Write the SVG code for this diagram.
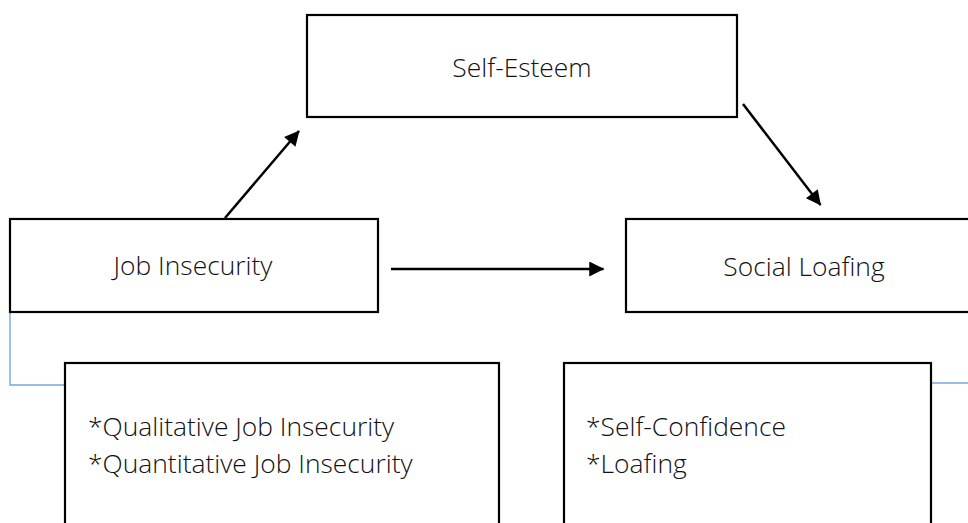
<svg xmlns="http://www.w3.org/2000/svg" width="968" height="523" viewBox="0 0 968 523">
<style>
.box{fill:#fff;stroke:#000;stroke-width:2.2}
.lbl{font-family:"Open Sans","Liberation Sans",sans-serif;font-weight:300;font-size:26.4px;fill:#111}
.arr{stroke:#000;stroke-width:2.5;fill:none;marker-end:url(#ah)}
.blue{stroke:#7aa6da;stroke-width:1.4;fill:none}
</style>
<defs>
<marker id="ah" viewBox="0 0 10 10" refX="9.5" refY="5" markerUnits="userSpaceOnUse" markerWidth="17" markerHeight="15" orient="auto">
<path d="M0,0 L10,5 L0,10 z" fill="#000"/>
</marker>
</defs>
<rect width="968" height="523" fill="#fff"/>
<g id="connectors">
<path class="blue" d="M10,313 V385 H65"/>
<path class="blue" d="M931,383 H968"/>
<line class="arr" x1="225" y1="218" x2="299" y2="131"/>
<line class="arr" x1="743" y1="104" x2="820.5" y2="205"/>
<line class="arr" x1="391" y1="269" x2="603.5" y2="269"/>
</g>
<g id="self-esteem">
<rect class="box" x="307" y="15" width="430" height="102"/>
<text class="lbl" x="522" y="77" text-anchor="middle">Self-Esteem</text>
</g>
<g id="job-insecurity">
<rect class="box" x="10" y="219" width="368" height="93"/>
<text class="lbl" x="193" y="275" text-anchor="middle">Job Insecurity</text>
</g>
<g id="social-loafing">
<rect class="box" x="626" y="219" width="360" height="93"/>
<text class="lbl" x="804" y="276" text-anchor="middle">Social Loafing</text>
</g>
<g id="job-insecurity-dims">
<rect class="box" x="65" y="363" width="434" height="180"/>
<text class="lbl" x="88" y="436">*Qualitative Job Insecurity</text>
<text class="lbl" x="88" y="473">*Quantitative Job Insecurity</text>
</g>
<g id="social-loafing-dims">
<rect class="box" x="564" y="363" width="367" height="180"/>
<text class="lbl" x="586" y="436">*Self-Confidence</text>
<text class="lbl" x="586" y="473">*Loafing</text>
</g>
</svg>
